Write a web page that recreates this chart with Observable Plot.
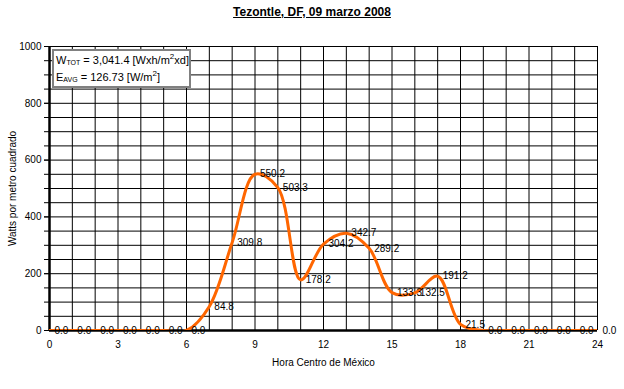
<!DOCTYPE html>
<html>
<head>
<meta charset="utf-8">
<script src="https://cdn.jsdelivr.net/npm/d3@7"></script>
<script src="https://cdn.jsdelivr.net/npm/@observablehq/plot@0.6"></script>
<style>
  body { margin: 0; background: #fff; font-family: "Liberation Sans", Arial, sans-serif; }
  #wrap { position: relative; width: 624px; height: 389px; }
  #title { position: absolute; left: 0; width: 624px; top: 5px; text-align: center;
           font-weight: bold; font-size: 12px; text-decoration: underline; color: #000; }
  #legend { position: absolute; left: 52px; top: 49px; width: 139px; height: 39px;
            border: 2px solid #808080; background: #fff; font-size: 11px; line-height: 17px;
            padding: 1px 0 0 2px; box-sizing: border-box; color: #000; white-space: nowrap; }
  #legend sub { font-size: 7px; vertical-align: -1px; line-height: 0; }
  #legend sup { font-size: 8px; vertical-align: 5px; line-height: 0; }
</style>
</head>
<body>
<div id="wrap">
  <div id="chart"></div>
  <div id="title">Tezontle, DF, 09 marzo 2008</div>
  <div id="legend">W<sub>TOT</sub> = 3,041.4 [Wxh/m<sup>2</sup>xd]<br>E<sub>AVG</sub> = 126.73 [W/m<sup>2</sup>]</div>
</div>
<script>
const hours = [0,1,2,3,4,5,6,7,8,9,10,11,12,13,14,15,16,17,18,19,20,21,22,23,24];
const watts = [0,0,0,0,0,0,0,84.8,309.8,550.2,503.3,178.2,304.2,342.7,289.2,133.3,132.5,191.2,21.5,0,0,0,0,0,0];
const xTicks = [0,3,6,9,12,15,18,21,24];
const yTicks = [0,200,400,600,800,1000];

const data = hours.map((h, i) => ({hour: h, value: watts[i]}));

const chart = Plot.plot({
  width: 624,
  height: 389,
  marginLeft: 49,
  marginRight: 27,
  marginTop: 46,
  marginBottom: 59,
  style: {fontFamily: "'Liberation Sans', Arial, sans-serif", fontSize: "10px", color: "#000", background: "#fff"},
  x: {domain: [0, 24]},
  y: {domain: [0, 1000]},
  marks: [
    Plot.gridX(d3.range(0, 25, 1), {stroke: "#000", strokeOpacity: 1, strokeWidth: 1}),
    Plot.gridY(d3.range(0, 1001, 50), {stroke: "#000", strokeOpacity: 1, strokeWidth: 1}),
    Plot.axisY(d3.range(0, 1001, 50), {tickSize: 5, tickFormat: () => "", label: null}),
    Plot.axisY(yTicks, {tickSize: 5, tickPadding: 3, tickFormat: d3.format("d"), label: "Watts por metro cuadrado", labelAnchor: "center", labelArrow: "none", labelOffset: 41}),
    Plot.axisX(xTicks, {tickSize: 0, tickPadding: 10, tickFormat: d3.format("d"), label: "Hora Centro de México", labelAnchor: "center", labelArrow: "none", labelOffset: 35}),
    Plot.ruleY([0], {stroke: "#000", strokeWidth: 2.5}),
    Plot.ruleX([0], {stroke: "#000", strokeWidth: 2.5}),
    Plot.line(data, {x: "hour", y: "value", stroke: "#FF6600", strokeWidth: 3, curve: "catmull-rom", clip: true}),
    Plot.text(data, {x: "hour", y: "value", text: d => d.value.toFixed(1), dx: 5, textAnchor: "start", fill: "#000", fontSize: 10})
  ]
});
document.getElementById("chart").appendChild(chart);
</script>
</body>
</html>
